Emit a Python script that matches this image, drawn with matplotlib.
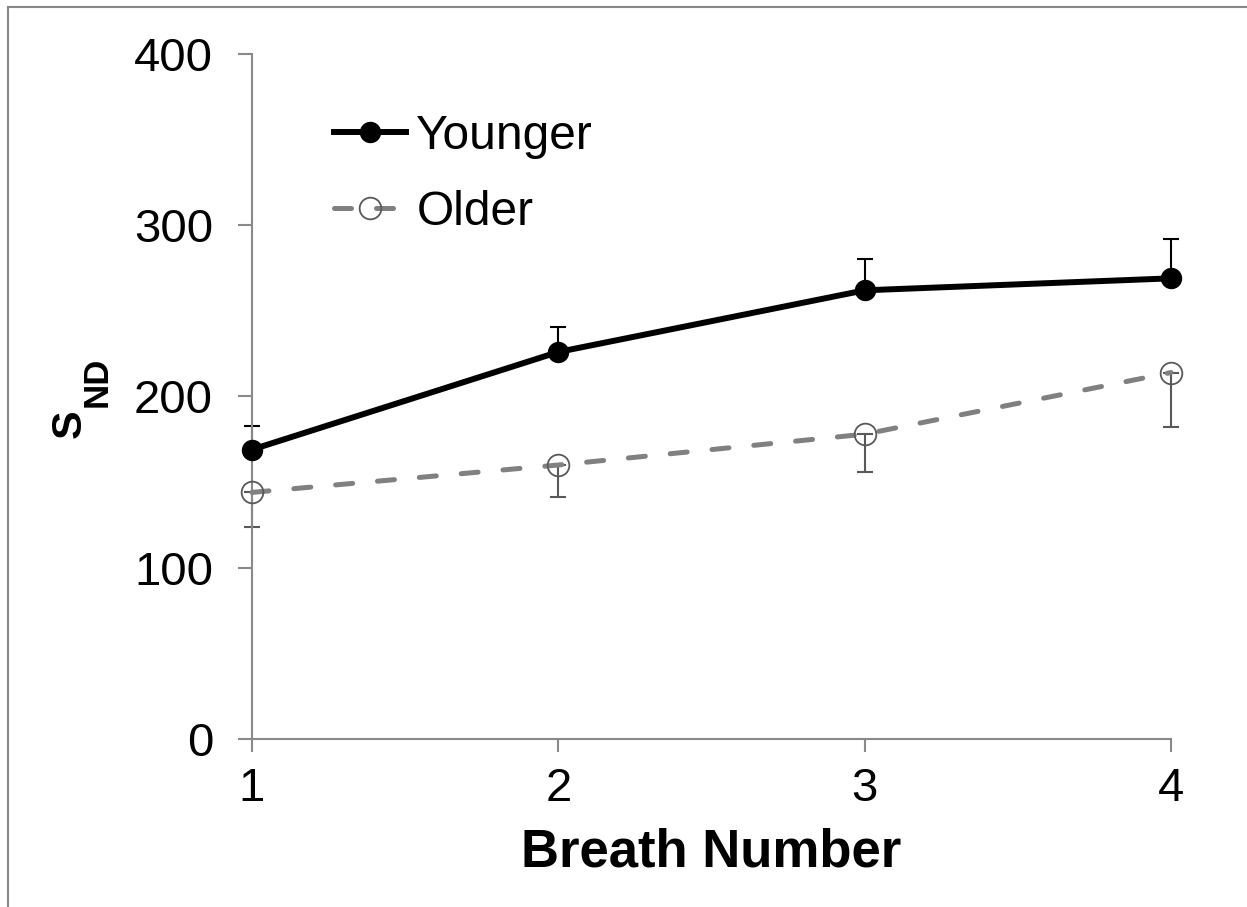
import matplotlib
matplotlib.use("Agg")
import matplotlib.pyplot as plt
from matplotlib.lines import Line2D

plt.rcParams['font.family'] = ['Liberation Sans', 'DejaVu Sans']

# Data
breaths = [1, 2, 3, 4]
younger = [169, 226, 262, 269]
younger_err = [14, 14.5, 18, 23]
older = [144, 160, 178, 214]
older_err = [20, 18.5, 22, 32]

W, H = 1247, 907
fig = plt.figure(figsize=(W / 100, H / 100), dpi=100)
ax = fig.add_axes([252 / W, 1 - 739 / H, (1171 - 252) / W, (739 - 54) / H])

# error bars: younger up only, older down only
eb1 = ax.errorbar(breaths, younger, yerr=[[0] * 4, younger_err], fmt='none',
                  ecolor='black', elinewidth=1.5, capsize=6, capthick=1.5, zorder=2)
eb2 = ax.errorbar(breaths, older, yerr=[older_err, [0] * 4], fmt='none',
                  ecolor='#595959', elinewidth=1.5, capsize=6, capthick=1.5, zorder=2)
for eb in (eb1, eb2):
    for art in eb.lines[1] + eb.lines[2]:
        art.set_clip_on(False)

ax.plot(breaths, younger, color='black', linewidth=4.3, marker='o',
        markersize=14.4, markerfacecolor='black', markeredgecolor='black',
        label='Younger', zorder=4, clip_on=False)
ax.plot(breaths, older, color='#808080', linewidth=3.6, linestyle=(0, (3.4, 5)),
        dash_capstyle='round',
        marker='o', markersize=15.6, markerfacecolor='none',
        markeredgecolor='#595959', markeredgewidth=1.3,
        label='Older', zorder=3, clip_on=False)

ax.set_xlim(1, 4)
ax.set_ylim(0, 400)
ax.set_xticks(breaths)
ax.set_yticks([0, 100, 200, 300, 400])

for s in ['top', 'right']:
    ax.spines[s].set_visible(False)
for s in ['left', 'bottom']:
    ax.spines[s].set_color('#898989')
    ax.spines[s].set_linewidth(1.5)

ax.tick_params(axis='y', length=10, width=1.5, color='#898989',
               labelsize=34, pad=18)
ax.tick_params(axis='x', length=9, width=1.5, color='#898989',
               labelsize=34, pad=11)

ax.set_xlabel('Breath Number', fontsize=38, fontweight='bold', labelpad=12)

# y label S with subscript ND
fig.text(70 / W, 1 - 424 / H, 'S', rotation=90, fontsize=31,
         fontweight='bold', ha='center', va='center')
fig.text(97 / W, 1 - 382 / H, 'ND', rotation=90, fontsize=25,
         fontweight='bold', ha='center', va='center')

ax.legend(loc='upper left', bbox_to_anchor=(334 / W, 1 - 114 / H),
          bbox_transform=fig.transFigure, frameon=False, fontsize=34.5,
          handlelength=1.5, handletextpad=0.22, labelspacing=0.65,
          borderpad=0, borderaxespad=0)

# outer frame lines (top and left)
fig.add_artist(Line2D([8 / W, 1], [1 - 7 / H, 1 - 7 / H], color='#888888',
                      linewidth=1.5, transform=fig.transFigure))
fig.add_artist(Line2D([8 / W, 8 / W], [0, 1 - 7 / H], color='#888888',
                      linewidth=1.5, transform=fig.transFigure))

fig.savefig('out.png', dpi=100)
